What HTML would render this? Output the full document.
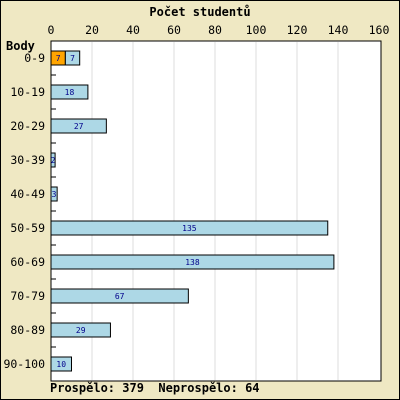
<!DOCTYPE html>
<html><head><meta charset="utf-8"><style>
body{margin:0;background:#fff}
svg{display:block}
text{font-family:"DejaVu Sans Mono","Liberation Mono",monospace}
</style></head><body>
<svg id="c" width="400" height="400">
<rect x="0.5" y="0.5" width="399" height="399" fill="#EFE8C3" stroke="#000"/>
<text x="200" y="16" text-anchor="middle" font-size="12" font-weight="bold">Počet studentů</text>
<rect x="51" y="41" width="330" height="340" fill="#fff" stroke="#000"/>
<text x="6" y="50" font-size="12" font-weight="bold">Body</text>
<text x="50" y="392" font-size="12" font-weight="bold" style="white-space:pre" xml:space="preserve">Prospělo: 379  Neprospělo: 64</text>
<g id="g"></g>
</svg>
<script>
const categories=["0-9","10-19","20-29","30-39","40-49","50-59","60-69","70-79","80-89","90-100"];
const failValues=[7,0,0,0,0,0,0,0,0,0];
const passValues=[7,18,27,2,3,135,138,67,29,10];
const xTicks=[0,20,40,60,80,100,120,140,160];
const ns="http://www.w3.org/2000/svg";
const g=document.getElementById('g');
const X0=51,X1=379,Y0=41,RH=34;
const xs=v=>X0+(v/160)*(X1-X0);
const yc=i=>Y0+RH*i+17;
function mk(t,a,txt){const e=document.createElementNS(ns,t);for(const k in a)e.setAttribute(k,a[k]);if(txt!=null)e.textContent=txt;g.appendChild(e);return e;}
xTicks.forEach(t=>{
  if(t>0&&t<160){const l=mk('line',{x1:xs(t),x2:xs(t),y1:Y0+1,y2:380,stroke:'#ddd'});
  
  }
  const tl=mk('text',{x:xs(t),y:34,'text-anchor':'middle','font-size':11.5},t);
  
  
});
categories.forEach((c,i)=>{
  const y=yc(i);
  if(i>0){const tk=mk('line',{x1:X0,x2:X0+5,y1:Y0+RH*i,y2:Y0+RH*i,stroke:'#000'});
  
  }
  const lb=mk('text',{x:45,y:y+4,'text-anchor':'end','font-size':11.5},c);
  
  
  let x=0;
  if(failValues[i]>0){
    const r=mk('rect',{x:xs(0),y:y-7,width:xs(failValues[i])-xs(0),height:14,fill:'#FFA500',stroke:'#000'});
    
    
    const t=mk('text',{x:(xs(0)+xs(failValues[i]))/2,y:y+3,'text-anchor':'middle','font-size':8,fill:'#00008b'},failValues[i]);
    
    
    x=failValues[i];
  }
  const v=passValues[i];
  const r=mk('rect',{x:xs(x),y:y-7,width:xs(x+v)-xs(x),height:14,fill:'#ADD8E6',stroke:'#000'});
  
  
  const t=mk('text',{x:(xs(x)+xs(x+v))/2,y:y+3,'text-anchor':'middle','font-size':8,fill:'#00008b'},v);
  
  
});
</script>
</body></html>
